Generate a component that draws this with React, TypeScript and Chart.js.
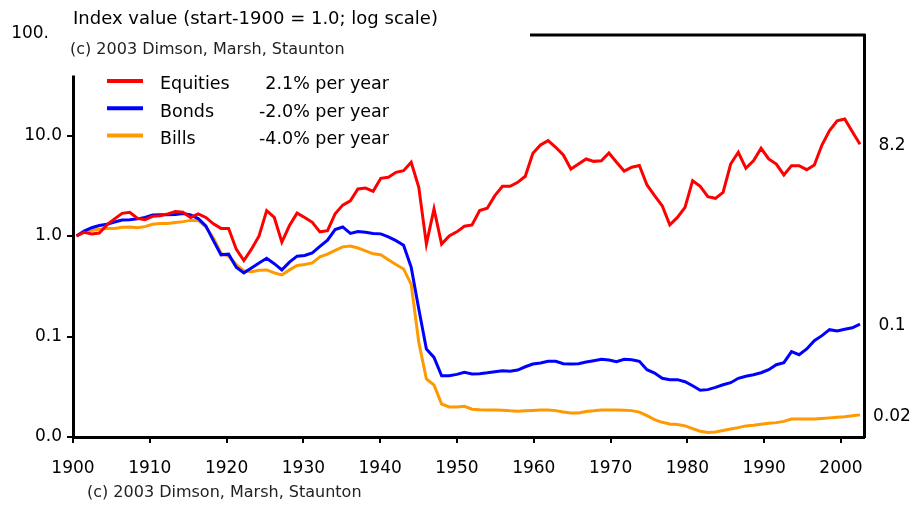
import React, { useEffect, useRef } from 'react';
import { Chart, registerables } from 'chart.js';

Chart.register(...registerables);

const FONT = '"DejaVu Sans", Verdana, sans-serif';

// Year index: start-1900 through end-2002 (104 points)
const years: number[] = Array.from({ length: 104 }, (_, i) => 1900 + i);

const seriesNames = ['Equities', 'Bonds', 'Bills'];
const seriesRates = ['2.1% per year', '-2.0% per year', '-4.0% per year'];
const seriesColors = ['#FF0000', '#0000FF', '#FF9900'];
const endLabels = ['8.2', '0.1', '0.02'];

const equities = [
  1.0, 1.09, 1.05, 1.07, 1.29, 1.48, 1.68, 1.72, 1.5, 1.45,
  1.57, 1.59, 1.66, 1.75, 1.72, 1.53, 1.66, 1.53, 1.32, 1.19,
  1.19, 0.74, 0.57, 0.74, 1.0, 1.79, 1.53, 0.87, 1.27, 1.69,
  1.53, 1.37, 1.1, 1.13, 1.66, 2.03, 2.24, 2.94, 3.0, 2.78,
  3.75, 3.84, 4.3, 4.47, 5.41, 3.05, 0.83, 1.86, 0.83, 1.0,
  1.1, 1.25, 1.29, 1.79, 1.89, 2.52, 3.12, 3.12, 3.42, 3.93,
  6.65, 8.04, 8.88, 7.63, 6.4, 4.64, 5.2, 5.84, 5.53, 5.61,
  6.7, 5.41, 4.43, 4.83, 5.03, 3.22, 2.52, 2.0, 1.29, 1.53,
  1.93, 3.55, 3.12, 2.46, 2.37, 2.72, 5.2, 6.81, 4.72, 5.61,
  7.46, 5.84, 5.2, 4.05, 5.01, 5.01, 4.57, 5.09, 8.04, 11.2,
  14.0, 14.6, 10.9, 8.2,
];

const bonds = [
  1.0, 1.12, 1.21, 1.27, 1.31, 1.38, 1.44, 1.45, 1.48, 1.53,
  1.62, 1.63, 1.63, 1.64, 1.67, 1.62, 1.49, 1.26, 0.9, 0.65,
  0.66, 0.49, 0.43, 0.48, 0.54, 0.6, 0.53, 0.46, 0.55, 0.63,
  0.64, 0.68, 0.79, 0.91, 1.16, 1.23, 1.06, 1.11, 1.09, 1.06,
  1.05, 0.98, 0.9, 0.81, 0.49, 0.188, 0.075, 0.062, 0.0407, 0.0407,
  0.042, 0.044, 0.0424, 0.0427, 0.0436, 0.0447, 0.0457, 0.045, 0.0464, 0.05,
  0.0532, 0.0545, 0.0566, 0.0566, 0.0536, 0.0532, 0.0536, 0.0557, 0.0574, 0.0593,
  0.0584, 0.0561, 0.0593, 0.0588, 0.0566, 0.0467, 0.0433, 0.0384, 0.0372, 0.0372,
  0.0355, 0.0324, 0.0292, 0.0296, 0.0312, 0.0331, 0.0347, 0.0384, 0.0402, 0.0417,
  0.0436, 0.0467, 0.0524, 0.0549, 0.0706, 0.0659, 0.0751, 0.0908, 0.102, 0.117,
  0.1135, 0.118, 0.122, 0.133,
];

const bills = [
  1.0, 1.09, 1.14, 1.17, 1.19, 1.19, 1.22, 1.23, 1.21, 1.24,
  1.31, 1.33, 1.33, 1.36, 1.39, 1.43, 1.43, 1.23, 0.955, 0.67,
  0.63, 0.52, 0.45, 0.44, 0.456, 0.46, 0.43, 0.41, 0.46, 0.51,
  0.52, 0.54, 0.62, 0.66, 0.72, 0.78, 0.795, 0.76, 0.71, 0.665,
  0.65, 0.58, 0.52, 0.47, 0.33, 0.0875, 0.0378, 0.0329, 0.0213, 0.0199,
  0.0199, 0.0202, 0.0189, 0.0187, 0.0186, 0.0186, 0.0185, 0.0182, 0.018, 0.0182,
  0.0184, 0.0186, 0.0186, 0.0183, 0.0177, 0.0173, 0.0173, 0.0179, 0.0182, 0.0186,
  0.0186, 0.0186, 0.0185, 0.0183, 0.0177, 0.0163, 0.0149, 0.014, 0.0135, 0.0133,
  0.0129, 0.0121, 0.0114, 0.0111, 0.0112, 0.0116, 0.012, 0.0124, 0.0129, 0.0131,
  0.0134, 0.0137, 0.0139, 0.0143, 0.0151, 0.0151, 0.0151, 0.0151, 0.0153, 0.0155,
  0.0157, 0.0159, 0.0163, 0.0166,
];

const xTickYears = [1900, 1910, 1920, 1930, 1940, 1950, 1960, 1970, 1980, 1990, 2000];
const yTickValues = [0.01, 0.1, 1, 10, 100];
const yTickLabels = ['0.0', '0.1', '1.0', '10.0', '100.'];

const titleText = 'Index value (start-1900 = 1.0; log scale)';
const copyrightText = '(c) 2003 Dimson, Marsh, Staunton';

const allSeries = [equities, bonds, bills];

const overlayPlugin = {
  id: 'overlay',
  afterDraw(chart: any) {
    const { ctx, chartArea } = chart;
    const yScale = chart.scales.y;
    ctx.save();
    // top frame line
    ctx.strokeStyle = '#000';
    ctx.lineWidth = 3;
    ctx.beginPath();
    ctx.moveTo(chartArea.left, chartArea.top);
    ctx.lineTo(chartArea.right + 1.5, chartArea.top);
    ctx.stroke();
    // white text box covering the top-left of the frame
    ctx.fillStyle = '#fff';
    ctx.fillRect(0, 0, 530, 75.5);

    // title
    ctx.fillStyle = '#000';
    ctx.textAlign = 'left';
    ctx.textBaseline = 'alphabetic';
    ctx.font = `18px ${FONT}`;
    ctx.fillText(titleText, 73, 24);

    // "100." tick label
    ctx.font = `17px ${FONT}`;
    ctx.textAlign = 'right';
    ctx.textBaseline = 'middle';
    ctx.fillText(yTickLabels[4], 49, yScale.getPixelForValue(yTickValues[4]) - 1);

    // copyright (top)
    ctx.fillStyle = '#222';
    ctx.textAlign = 'left';
    ctx.textBaseline = 'alphabetic';
    ctx.font = `16px ${FONT}`;
    ctx.fillText(copyrightText, 70, 54);

    // legend
    for (let i = 0; i < seriesNames.length; i++) {
      const rowY = 81 + 27.3 * i;
      ctx.strokeStyle = seriesColors[i];
      ctx.lineWidth = 4;
      ctx.beginPath();
      ctx.moveTo(107, rowY);
      ctx.lineTo(143, rowY);
      ctx.stroke();
      ctx.fillStyle = '#000';
      ctx.font = `17.5px ${FONT}`;
      ctx.textAlign = 'left';
      ctx.fillText(seriesNames[i], 160, rowY + 8.3);
      ctx.textAlign = 'right';
      ctx.fillText(seriesRates[i], 389, rowY + 8.3);
    }

    // end-value labels on the right
    ctx.fillStyle = '#000';
    ctx.font = `17px ${FONT}`;
    ctx.textAlign = 'center';
    ctx.textBaseline = 'middle';
    for (let i = 0; i < allSeries.length; i++) {
      const s = allSeries[i];
      const yy = yScale.getPixelForValue(s[s.length - 1]);
      ctx.fillText(endLabels[i], 892, yy + 1.5);
    }

    // copyright (bottom)
    ctx.fillStyle = '#222';
    ctx.textAlign = 'left';
    ctx.textBaseline = 'alphabetic';
    ctx.font = `16px ${FONT}`;
    ctx.fillText(copyrightText, 87, 497);
    ctx.restore();
  },
};

export default function App() {
  const ref = useRef<HTMLCanvasElement>(null);
  useEffect(() => {
    document.body.style.margin = '0';
    const axisGrid = {
      display: true,
      drawOnChartArea: false,
      drawTicks: true,
      tickLength: 6,
      color: '#000',
      lineWidth: 2,
    };
    const axisBorder = { display: true, color: '#000', width: 3 };
    const chart = new Chart(ref.current as HTMLCanvasElement, {
      type: 'line',
      data: {
        datasets: allSeries.map((s, i) => ({
          label: seriesNames[i],
          data: s.map((v, j) => ({ x: years[j], y: v })),
          borderColor: seriesColors[i],
          backgroundColor: seriesColors[i],
          borderWidth: 3,
          pointRadius: 0,
          tension: 0,
          fill: false,
          xAxisID: 'xd',
          yAxisID: 'y',
        })),
      },
      options: {
        responsive: false,
        maintainAspectRatio: false,
        devicePixelRatio: 1,
        animation: false,
        layout: { padding: { top: 35, left: 0, right: 0, bottom: 0 } },
        plugins: { legend: { display: false }, title: { display: false }, tooltip: { enabled: false } },
        scales: {
          x: {
            type: 'linear',
            position: 'bottom',
            min: 1900,
            max: 2003,
            afterBuildTicks: (s: any) => {
              s.ticks = xTickYears.map((v) => ({ value: v }));
            },
            afterFit: (s: any) => {
              s.height = 69;
            },
            ticks: {
              autoSkip: false,
              maxRotation: 0,
              padding: 15,
              color: '#000',
              font: { family: FONT, size: 17 },
              callback: (_v: any, i: number) => String(xTickYears[i]),
            },
            grid: axisGrid,
            border: axisBorder,
          },
          xd: {
            type: 'linear',
            axis: 'x',
            display: false,
            min: 1899.54,
            max: 2003.53,
          },
          y: {
            type: 'logarithmic',
            position: 'left',
            min: 0.01,
            max: 100,
            afterBuildTicks: (s: any) => {
              s.ticks = yTickValues.map((v) => ({ value: v }));
            },
            afterFit: (s: any) => {
              s.width = 73;
            },
            ticks: {
              padding: 5,
              color: '#000',
              font: { family: FONT, size: 17 },
              callback: (_v: any, i: number) => (i === yTickValues.length - 1 ? '' : yTickLabels[i]),
            },
            grid: axisGrid,
            border: axisBorder,
          },
          y2: {
            type: 'linear',
            position: 'right',
            min: 0,
            max: 1,
            afterFit: (s: any) => {
              s.width = 48;
            },
            ticks: { display: false },
            grid: { display: false },
            border: axisBorder,
          },
        },
      } as any,
      plugins: [overlayPlugin],
    });
    return () => chart.destroy();
  }, []);
  return (
    <div style={{ position: 'absolute', left: 0, top: 0, width: 912, height: 506, background: '#fff' }}>
      <canvas ref={ref} width={912} height={506} style={{ display: 'block', width: 912, height: 506 }} />
    </div>
  );
}
